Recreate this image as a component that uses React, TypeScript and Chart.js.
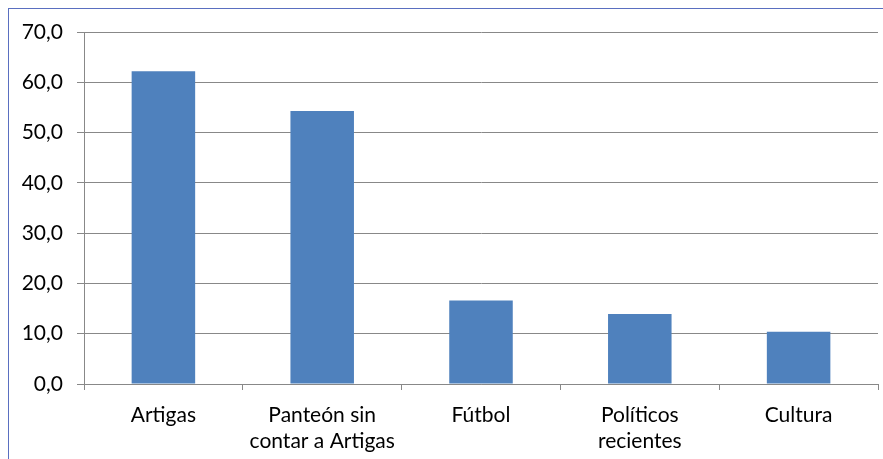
import React, { useEffect, useRef } from "react";
import { Chart, registerables } from "chart.js";

Chart.register(...registerables);

const categories: (string | string[])[] = [
  "Artigas",
  ["Panteón sin", "contar a Artigas"],
  "Fútbol",
  ["Políticos", "recientes"],
  "Cultura",
];
const values = [62.2, 54.3, 16.6, 13.9, 10.4];
const yTicks = [0, 10, 20, 30, 40, 50, 60, 70];

export default function App() {
  const ref = useRef<HTMLCanvasElement | null>(null);
  useEffect(() => {
    if (!ref.current) return;
    const font = { family: "Lato, 'Noto Sans', sans-serif", size: 21, lineHeight: 1.2 };
    const chart = new Chart(ref.current, {
      type: "bar",
      data: {
        labels: categories,
        datasets: [
          {
            data: values,
            backgroundColor: "#4f81bd",
            borderWidth: 0,
            categoryPercentage: 1,
            barPercentage: 0.4,
          },
        ],
      },
      options: {
        responsive: false,
        animation: false,
        devicePixelRatio: 1,
        layout: { padding: { left: 0, right: 5, top: 32, bottom: 0 } },
        plugins: { legend: { display: false }, tooltip: { enabled: false } },
        scales: {
          x: {
            offset: true,
            grid: {
              offset: true,
              drawOnChartArea: false,
              drawTicks: true,
              tickLength: 6,
              color: "#888888",
            },
            border: { color: "#888888", width: 1 },
            ticks: { color: "#000", font, padding: 13, maxRotation: 0, autoSkip: false },
            afterFit: (s: any) => {
              s.height = 75;
            },
          },
          y: {
            min: 0,
            max: 70,
            afterBuildTicks: (s: any) => {
              s.ticks = yTicks.map((v) => ({ value: v }));
            },
            grid: { color: "#888888", tickLength: 7, lineWidth: 1 },
            border: { color: "#888888", width: 1 },
            ticks: {
              color: "#000",
              font,
              padding: 14,
              callback: (v: any) => Number(v).toFixed(1).replace(".", ","),
            },
            afterFit: (s: any) => {
              s.width = 84;
            },
          },
        },
      },
    });
    return () => chart.destroy();
  }, []);
  return (
    <div style={{ position: "absolute", left: 0, top: 0, width: 883, height: 459, overflow: "hidden", background: "#fff" }}>
      <canvas ref={ref} width={883} height={459} style={{ position: "absolute", left: 0, top: 0 }} />
      <div
        style={{
          position: "absolute",
          left: 8,
          top: 8,
          width: 1000,
          height: 1000,
          borderLeft: "1px solid #5a6fc0",
          borderTop: "1px solid #5a6fc0",
          pointerEvents: "none",
        }}
      />
    </div>
  );
}
